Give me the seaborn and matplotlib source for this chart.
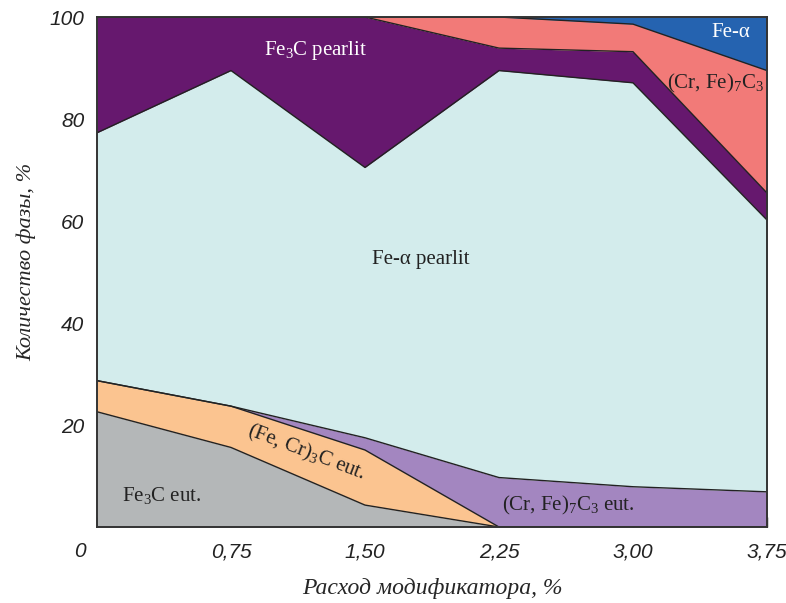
import numpy as np
import matplotlib
matplotlib.use('Agg')
import matplotlib.pyplot as plt
import matplotlib.transforms as mtransforms
import seaborn as sns

sns.set_style('ticks')
plt.rcParams['mathtext.fontset'] = 'custom'
plt.rcParams['mathtext.rm'] = 'Liberation Serif'
plt.rcParams['mathtext.it'] = 'Liberation Serif:italic'

# Modifier consumption, %
x = [0, 0.75, 1.50, 2.25, 3.00, 3.75]
x_labels = ['0', '0,75', '1,50', '2,25', '3,00', '3,75']

# Cumulative upper boundaries of each phase, %
fe3c_eut = [22.6, 15.6, 4.3, 0.0, 0.0, 0.0]
fecr3c_eut = [28.7, 23.7, 15.1, 0.0, 0.0, 0.0]
crfe7c3_eut = [28.7, 23.7, 17.5, 9.7, 7.9, 6.9]
fea_pearlit = [77.3, 89.5, 70.5, 89.5, 87.1, 60.2]
fe3c_pearlit = [100.0, 100.0, 100.0, 93.9, 93.2, 65.5]
crfe7c3 = [100.0, 100.0, 100.0, 100.0, 98.6, 89.5]
fe_alpha = [100.0, 100.0, 100.0, 100.0, 100.0, 100.0]

layers = [fe3c_eut, fecr3c_eut, crfe7c3_eut, fea_pearlit,
          fe3c_pearlit, crfe7c3, fe_alpha]
colors = ['#b4b7b8', '#fbc490', '#a386c0', '#d3ecec',
          '#66186e', '#f27a78', '#2563b0']

fig = plt.figure(figsize=(7.86, 6.03), dpi=100)
ax = fig.add_axes([0.1234, 0.126, 0.8524, 0.8458])

lower = [0.0] * len(x)
for top, col in zip(layers, colors):
    ax.fill_between(x, lower, top, color=col, linewidth=0)
    lower = top

# boundary lines between phases
for top in layers[:-1]:
    sns.lineplot(x=x, y=top, ax=ax, color='#222222', linewidth=1.0)

ax.set_xlim(0, 3.75)
ax.set_ylim(0, 100)
ax.set_xticks(x)
ax.set_xticklabels(x_labels)
ax.set_yticks([20, 40, 60, 80, 100])

ax.tick_params(direction='in', length=7, width=1, colors='#222222',
               labelsize=15, pad=11)
ax.tick_params(axis='y', pad=9)
for lab in ax.get_xticklabels() + ax.get_yticklabels():
    lab.set_family('Liberation Sans')
    lab.set_style('italic')
first = ax.get_xticklabels()[0]
first.set_transform(first.get_transform() +
                    mtransforms.ScaledTranslation(-0.17, 0, fig.dpi_scale_trans))

for sp in ax.spines.values():
    sp.set_color('#333333')
    sp.set_linewidth(1.4)

ax.set_xlabel('Расход модификатора, %', family='Liberation Serif',
              style='italic', fontsize=17, labelpad=12)
ax.set_ylabel('Количество фазы, %', family='Liberation Serif',
              style='italic', fontsize=16)
ax.yaxis.set_label_coords(-0.091, 0.52)

lab_kw = dict(family='Liberation Serif', fontsize=15, ha='center', va='center')
ax.text(1.226, 93.5, r'Fe$_3$C pearlit', color='white', **lab_kw)
ax.text(1.81, 52.4, 'Fe-α pearlit', color='#222222', **lab_kw)
ax.text(3.55, 97.0, 'Fe-α', color='white', **lab_kw)
ax.text(3.46, 87.0, r'(Cr, Fe)$_7$C$_3$', color='#222222', **lab_kw)
ax.text(1.17, 14.5, r'(Fe, Cr)$_3$C eut.', color='#222222', rotation=-21,
        rotation_mode='anchor', **lab_kw)
ax.text(0.364, 6.1, r'Fe$_3$C eut.', color='#222222', **lab_kw)
ax.text(2.64, 4.3, r'(Cr, Fe)$_7$C$_3$ eut.', color='#222222', **lab_kw)

fig.savefig('out.png', dpi=100)
